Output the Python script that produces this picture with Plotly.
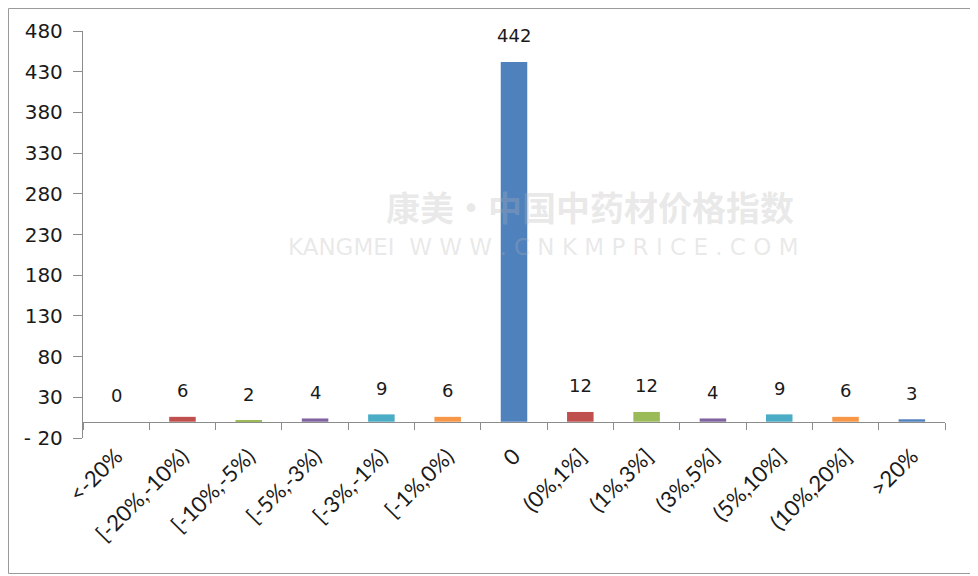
import plotly.graph_objects as go

categories = ["<-20%", "[-20%,-10%)", "[-10%,-5%)", "[-5%,-3%)", "[-3%,-1%)", "[-1%,0%)",
              "0", "(0%,1%]", "(1%,3%]", "(3%,5%]", "(5%,10%]", "(10%,20%]", ">20%"]
counts = [0, 6, 2, 4, 9, 6, 442, 12, 12, 4, 9, 6, 3]
palette = ["#4F81BD", "#C0504D", "#9BBB59", "#8064A2", "#4BACC6", "#F79646"]
bar_colors = [palette[i % 6] for i in range(len(categories))]
y_ticks = list(range(-20, 481, 50))
y_ticktext = [str(v).replace("-", "- ") for v in y_ticks]

# the page body has an 8px default margin, so the figure is 8px smaller
W, H = 970, 568
ml, mr, mt, mb = 75, 33, 23, 138

fig = go.Figure()
fig.add_trace(go.Bar(
    x=categories, y=counts, marker=dict(color=bar_colors, line=dict(width=0)),
    width=0.4, hoverinfo="x+y", showlegend=False,
))

for i, v in enumerate(counts):
    fig.add_annotation(x=i, y=v, text=str(v), showarrow=False, yshift=26,
                       font=dict(family="DejaVu Sans", size=18, color="#1a1a1a"))

# watermark
fig.add_annotation(xref="paper", yref="paper", x=0.588, y=0.568, text="<b>康美·中国中药材价格指数</b>",
                   showarrow=False, font=dict(family="Noto Sans CJK SC", size=34, color="rgba(180,180,180,0.3)"))
fig.add_annotation(xref="paper", yref="paper", x=0.534, y=0.469, text="KANGMEI  W W W . C N K M P R I C E . C O M",
                   showarrow=False, font=dict(family="DejaVu Sans", size=23, color="rgba(180,180,180,0.3)"))

# outer border
pw = W - ml - mr
ph = H - mt - mb
fig.add_shape(type="rect", xref="paper", yref="paper",
              x0=(0.5 - ml) / pw, x1=(W - 1.5 - ml) / pw,
              y0=-(H - 2.5 - mt - ph) / ph, y1=(mt - 0.5) / ph + 1,
              line=dict(color="#9a9a9a", width=1), layer="below")

fig.update_layout(
    width=W, height=H, margin=dict(l=ml, r=mr, t=mt, b=mb, autoexpand=False),
    paper_bgcolor="white", plot_bgcolor="white",
    xaxis=dict(
        type="category", automargin=False,
        anchor="free", position=20 / 500, tickangle=-45, ticks="outside", ticklen=7,
        tickson="boundaries", tickcolor="#8c8c8c", showline=True, linecolor="#8c8c8c",
        linewidth=1.3, showgrid=False, mirror=False, ticklabelstandoff=12,
        tickfont=dict(family="Lato", size=22, color="#1a1a1a"),
    ),
    yaxis=dict(
        automargin=False,
        range=[-20, 480], tickvals=y_ticks, ticktext=y_ticktext, ticks="outside", ticklen=9,
        tickcolor="#8c8c8c", ticklabelstandoff=6,
        showline=True, linecolor="#8c8c8c", linewidth=1.3, showgrid=False, zeroline=False,
        tickfont=dict(family="DejaVu Sans", size=20, color="#1a1a1a"),
    ),
)

fig.write_html("out.html")
